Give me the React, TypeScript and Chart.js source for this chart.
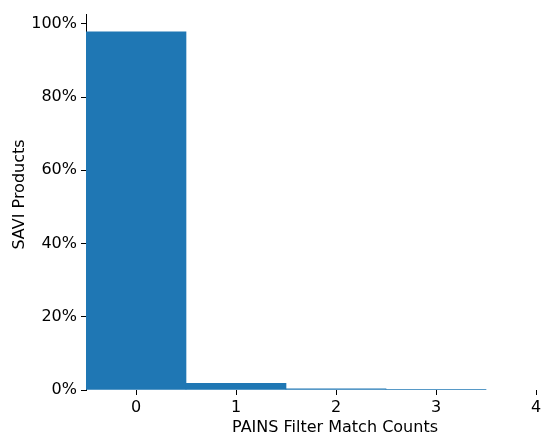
import React, { useEffect, useRef } from "react";
import { Chart, registerables } from "chart.js";

Chart.register(...registerables);

const categories = [0, 1, 2, 3];
const percentages = [97.8, 1.8, 0.3, 0.15];
const yTicks = [0, 20, 40, 60, 80, 100];
const xTicks = [0, 1, 2, 3, 4];
const xTitle = "PAINS Filter Match Counts";
const yTitle = "SAVI Products";

const FONT_FAMILY = "DejaVu Sans";
const FONT_SIZE = 16;

const titlePlugin = {
  id: "manualTitles",
  afterDraw(chart: any) {
    const ctx = chart.ctx;
    ctx.save();
    ctx.fillStyle = "#000";
    ctx.font = `${FONT_SIZE}px "${FONT_FAMILY}"`;
    ctx.textAlign = "center";
    ctx.textBaseline = "middle";
    ctx.fillText(xTitle, 335, 428);
    ctx.translate(20, 194.5);
    ctx.rotate(-Math.PI / 2);
    ctx.fillText(yTitle, 0, 0);
    ctx.restore();
  },
};

export default function App() {
  const ref = useRef<HTMLCanvasElement>(null);
  useEffect(() => {
    const font = { family: FONT_FAMILY, size: FONT_SIZE };
    const chart = new Chart(ref.current!, {
      type: "bar",
      data: {
        datasets: [
          {
            data: categories.map((c, i) => ({ x: c, y: percentages[i] })),
            backgroundColor: "#1f77b4",
            borderWidth: 0,
            barPercentage: 1,
            categoryPercentage: 1,
          },
        ],
      },
      plugins: [titlePlugin],
      options: {
        animation: false,
        responsive: false,
        maintainAspectRatio: false,
        layout: { autoPadding: false, padding: { top: 14, right: 10, left: 0, bottom: 0 } },
        plugins: { legend: { display: false }, tooltip: { enabled: false } },
        scales: {
          x: {
            type: "linear",
            min: -0.5,
            max: 4,
            offset: false,
            afterFit: (s: any) => { s.height = 47; },
            afterBuildTicks: (s: any) => { s.ticks = xTicks.map((v) => ({ value: v })); },
            ticks: { stepSize: 1, color: "#000", font, padding: 3, maxRotation: 0 },
            grid: { offset: false, drawOnChartArea: false, drawTicks: true, tickLength: 5, color: "#000", tickWidth: 1 },
            border: { display: false },
          },
          y: {
            min: 0,
            max: 102.7,
            afterFit: (s: any) => { s.width = 86; },
            afterBuildTicks: (s: any) => { s.ticks = yTicks.map((v) => ({ value: v })); },
            ticks: { color: "#000", font, padding: 4, callback: (v: any) => v + "%" },
            grid: { drawOnChartArea: false, drawTicks: true, tickLength: 5, color: "#000", tickWidth: 1 },
            border: { display: true, color: "#000", width: 1 },
          },
        },
      },
    } as any);
    return () => chart.destroy();
  }, []);
  return (
    <div style={{ position: "fixed", left: 0, top: 0, width: 546, height: 437, background: "#fff" }}>
      <canvas ref={ref} width={546} height={437} style={{ width: 546, height: 437 }} />
    </div>
  );
}
